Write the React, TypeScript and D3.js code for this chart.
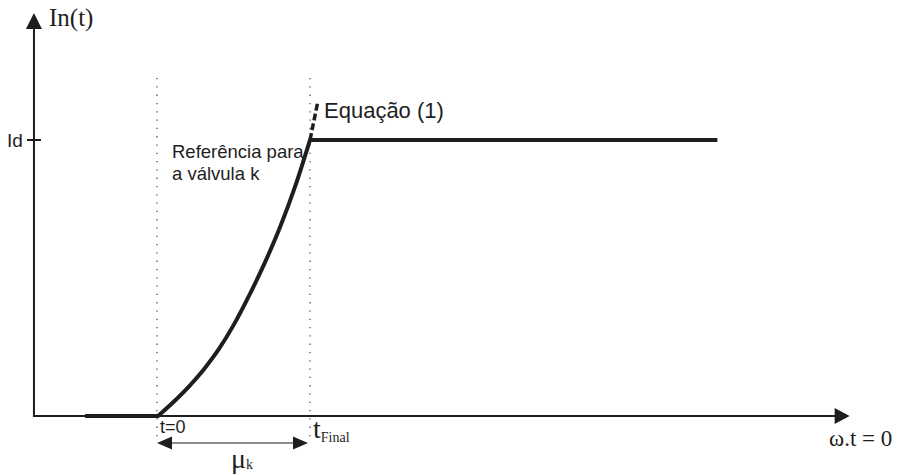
import React from "react";
import * as d3 from "d3";

// Normalised time: t=0 at the firing instant, t=1 at tFinal
const flatT = [-0.48, 0];
const flatI = [0, 0];
const rampT = [0, 0.1, 0.2, 0.3, 0.4, 0.5, 0.6, 0.7, 0.8, 0.9, 1];
const rampI = [0, 0.05, 0.105, 0.168, 0.242, 0.332, 0.437, 0.552, 0.68, 0.828, 1];
const steadyT = [1, 3.68];
const steadyI = [1, 1];
const extT = [1, 1.052];
const extI = [1, 1.14];
const markerT = [0, 1];
const axisT = [-0.816, 4.55];
const axisI = [0, 1.46];

const W = 907;
const H = 475;

const x = d3.scaleLinear().domain([0, 1]).range([158, 310]);
const y = d3.scaleLinear().domain([0, 1]).range([416, 140]);

const zip = (ts: number[], is: number[]): [number, number][] =>
  ts.map((t, i) => [t, is[i]]);

const straight = d3
  .line<[number, number]>()
  .x((d) => x(d[0]))
  .y((d) => y(d[1]));

const smooth = d3
  .line<[number, number]>()
  .x((d) => x(d[0]))
  .y((d) => y(d[1]))
  .curve(d3.curveMonotoneX);

const ink = "#1e1e1e";
const sans = "Liberation Sans, Arial, sans-serif";
const serif = "Liberation Serif, Times New Roman, serif";

export default function App() {
  const x0 = x(axisT[0]);
  const xEnd = x(axisT[1]);
  const y0 = y(axisI[0]);
  const yTop = y(axisI[1]);
  const yId = y(1);
  const arrowY = 443;

  return (
    <svg
      width={W}
      height={H}
      viewBox={`0 0 ${W} ${H}`}
      style={{ position: "absolute", left: 0, top: 0, background: "#fff" }}
    >
      {/* dotted reference lines at t=0 and tFinal */}
      {markerT.map((t) => (
        <line
          key={t}
          x1={x(t) - (t === 0 ? 1 : 0)}
          x2={x(t) - (t === 0 ? 1 : 0)}
          y1={78}
          y2={442}
          stroke="#555"
          strokeWidth={1.3}
          strokeDasharray="1.3 7"
        />
      ))}

      {/* axes */}
      <line x1={x0} x2={x0} y1={y0 + 1} y2={yTop + 14} stroke={ink} strokeWidth={2} />
      <path
        d={`M${x0},${yTop} L${x0 - 8},${yTop + 16} L${x0 + 8},${yTop + 16} Z`}
        fill={ink}
      />
      <line x1={x0 - 1} x2={xEnd - 12} y1={y0} y2={y0} stroke={ink} strokeWidth={2} />
      <path
        d={`M${xEnd},${y0} L${xEnd - 15},${y0 - 8} L${xEnd - 15},${y0 + 8} Z`}
        fill={ink}
      />

      {/* Id tick */}
      <line x1={x0 - 7} x2={x0 + 7} y1={yId} y2={yId} stroke={ink} strokeWidth={2} />

      {/* current waveform */}
      <path d={straight(zip(flatT, flatI)) ?? ""} fill="none" stroke={ink} strokeWidth={4} />
      <path
        d={smooth(zip(rampT, rampI)) ?? ""}
        fill="none"
        stroke={ink}
        strokeWidth={4}
        strokeLinecap="round"
      />
      <path
        d={straight(zip(steadyT, steadyI)) ?? ""}
        fill="none"
        stroke={ink}
        strokeWidth={4}
      />
      <path
        d={straight(zip(extT, extI)) ?? ""}
        fill="none"
        stroke={ink}
        strokeWidth={3.5}
        strokeDasharray="7 3"
      />

      {/* commutation interval arrow */}
      <line x1={x(0) + 12} x2={x(1) - 14} y1={arrowY} y2={arrowY} stroke={ink} strokeWidth={1.2} />
      <path
        d={`M${x(0) - 1},${arrowY} L${x(0) + 14},${arrowY - 6.5} L${x(0) + 14},${arrowY + 6.5} Z`}
        fill={ink}
      />
      <path
        d={`M${x(1) - 2},${arrowY} L${x(1) - 17},${arrowY - 6.5} L${x(1) - 17},${arrowY + 6.5} Z`}
        fill={ink}
      />

      {/* labels */}
      <text x={49} y={26} fontFamily={serif} fontSize={25} fill={ink}>
        In(t)
      </text>
      <text x={7} y={147} fontFamily={sans} fontSize={19} fill={ink}>
        Id
      </text>
      <text x={324} y={118} fontFamily={sans} fontSize={22} fill={ink}>
        Equação (1)
      </text>
      <text x={172} y={158} fontFamily={sans} fontSize={18.5} fill={ink}>
        Referência para
      </text>
      <text x={172} y={180} fontFamily={sans} fontSize={18.5} fill={ink}>
        a válvula k
      </text>
      <text x={160} y={433} fontFamily={sans} fontSize={18} fill={ink}>
        t=0
      </text>
      <text x={313} y={438} fontFamily={serif} fill={ink}>
        <tspan fontSize={28}>t</tspan>
        <tspan fontSize={14} dy={4}>Final</tspan>
      </text>
      <text x={231} y={468} fontFamily={serif} fill={ink}>
        <tspan fontSize={28}>μ</tspan>
        <tspan fontSize={14} dy={1}>k</tspan>
      </text>
      <text x={829} y={446} fontFamily={serif} fontSize={23} fill={ink}>
        ω.t = 0
      </text>
    </svg>
  );
}
